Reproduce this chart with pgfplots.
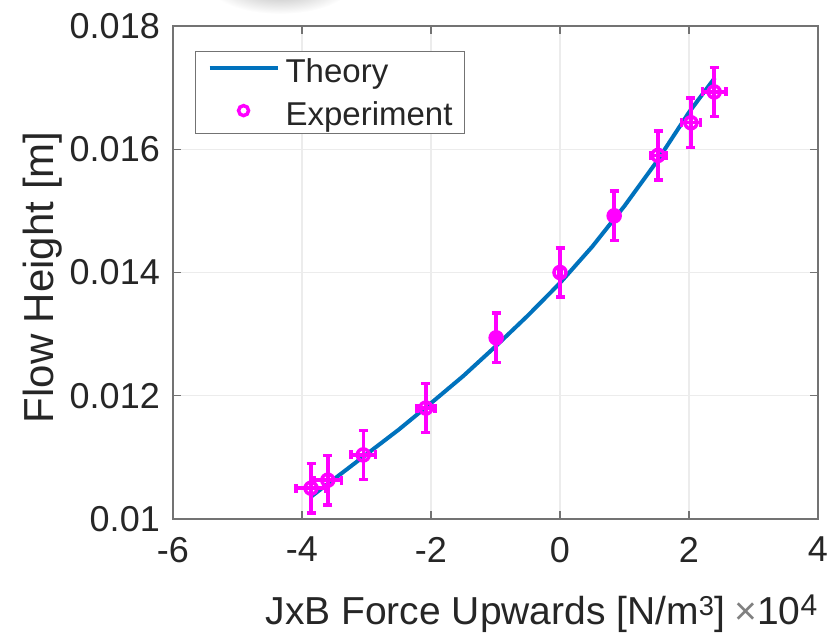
\documentclass[border=0pt]{standalone}
\usepackage{fontspec}
\setmainfont{Liberation Sans}
\usepackage{pgfplots}
\pgfplotsset{compat=1.18}
\definecolor{mblue}{rgb}{0,0.447,0.741}
\definecolor{mag}{rgb}{1,0,1}
\definecolor{txt}{gray}{0.15}
\definecolor{axgray}{gray}{0.45}

\pgfplotstableread{
x y ex ey
-3.86 0.01050 0.23 0.0004
-3.60 0.01063 0.21 0.0004
-3.05 0.01104 0.19 0.0004
-2.08 0.01180 0.14 0.0004
-0.99 0.01294 0.06 0.0004
0.00 0.01400 0.02 0.0004
0.84 0.01492 0.05 0.0004
1.52 0.01590 0.12 0.0004
2.03 0.01643 0.15 0.0004
2.39 0.01693 0.18 0.0004
}\experiment

\pgfplotstableread{
x y
-3.85 0.01037
-3.50 0.01065
-3.00 0.01105
-2.50 0.01145
-2.00 0.01188
-1.50 0.01232
-1.00 0.01280
-0.50 0.01330
0.00 0.01383
0.50 0.01442
1.00 0.01508
1.50 0.01580
2.00 0.01660
2.40 0.01716
}\theory

\begin{document}
\begin{tikzpicture}[x=1pt,y=1pt]
\path[use as bounding box] (0,0) rectangle (831,634);
\shade[inner color=gray!65, outer color=white] (280,650) ellipse (72 and 30);
\begin{axis}[
  at={(173pt,115pt)}, anchor=south west,
  width=645pt, height=493pt, scale only axis,
  xmin=-6, xmax=4, ymin=0.01, ymax=0.018,
  xtick={-6,-4,-2,0,2,4}, xticklabels={-6,-4,-2,0,2,4},
  ytick={0.01,0.012,0.014,0.016,0.018},
  yticklabels={0.01,0.012,0.014,0.016,0.018},
  scaled y ticks=false,
  grid=major, major grid style={gray!15, line width=1.2pt},
  axis line style={axgray, line width=1.3pt},
  tick style={axgray, line width=1.3pt},
  tick align=inside, major tick length=8pt,
  ticklabel style={font=\fontsize{36}{40}\selectfont, text=txt, inner sep=0pt},
  xticklabel style={anchor=north, yshift=-18pt},
  yticklabel style={anchor=east, xshift=-13pt},
  xlabel={JxB Force Upwards [N/m\textsuperscript{3}]},
  ylabel={Flow Height [m]},
  label style={text=txt, inner sep=0pt},
  xlabel style={font=\fontsize{39}{44}\selectfont, at={(axis description cs:0.5,-0.215)}, anchor=base},
  ylabel style={font=\fontsize{42}{46}\selectfont, at={(axis description cs:-0.186,0.49)}, anchor=base},
  legend style={at={(0.034,0.949)}, anchor=north west, draw=axgray,
    line width=1.3pt, fill=white, font=\fontsize{33}{38}\selectfont, text=txt,
    inner xsep=12pt, inner ysep=7pt, nodes={inner sep=0pt}, column sep=6pt, row sep=17pt},
  legend cell align=left,
]
\addplot[mblue, line width=4pt,
  legend image code/.code={\draw[mblue, line width=4pt] (0pt,0.33em) -- (68pt,0.33em);}]
  table[x=x, y=y] {\theory};
\addlegendentry{Theory}
\addplot[only marks, mark=o, mark size=6pt, mag,
  mark options={line width=3.5pt},
  legend image code/.code={\path[draw=none] (0pt,0.33em) -- (68pt,0.33em);
    \draw[mag, line width=3.5pt] (34pt,0.33em) circle (5pt);},
  error bars/.cd, x dir=both, x explicit, y dir=both, y explicit,
  error bar style={line width=3.5pt, mag},
  error mark options={rotate=90, line width=3.5pt, mark size=4.5pt, mag}]
  table[x=x, y=y, x error=ex, y error=ey] {\experiment};
\addlegendentry{Experiment}
\end{axis}
\node[anchor=base east, inner sep=0pt, text=txt, font=\fontsize{39}{44}\selectfont] at (818,9) {{\color{gray}×}10\textsuperscript{\fontsize{30}{30}\selectfont 4}};
\end{tikzpicture}
\end{document}
